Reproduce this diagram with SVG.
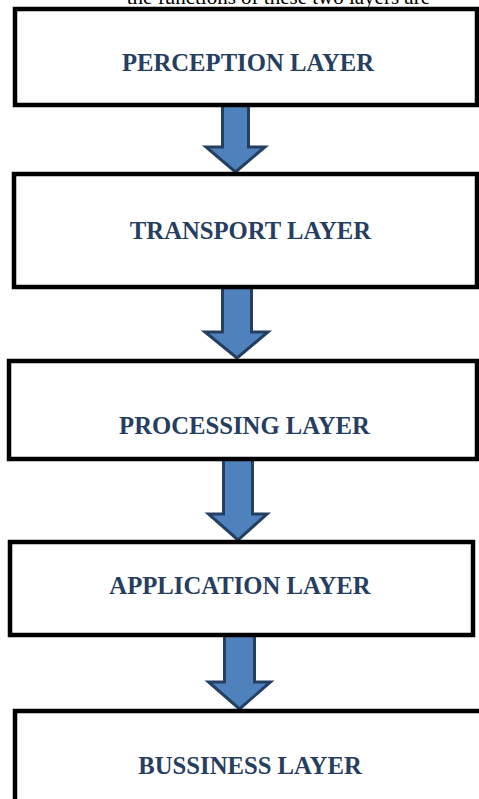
<svg xmlns="http://www.w3.org/2000/svg" width="479" height="799" viewBox="0 0 479 799">
<style>
.box{fill:#ffffff;stroke:#000000;stroke-width:4.5}
.lbl{font-family:"Liberation Serif","Times New Roman",serif;font-weight:bold;font-size:24.7px;fill:#263E60;text-anchor:middle}
.arr{fill:#4F81BD;stroke:#243F60;stroke-width:3;stroke-linejoin:miter}
.body{font-family:"Liberation Serif","Times New Roman",serif;font-size:21px;fill:#000000}
</style>
<rect width="479" height="799" fill="#ffffff"/>
<text class="body" x="430" y="4" text-anchor="end">the functions of these two layers are</text>
<g id="connectors">
<path class="arr" d="M222.5,104 L248.5,104 L248.5,147 L265,147 L235.5,172 L206,147 L222.5,147 Z"/>
<path class="arr" d="M222.5,287 L251.5,287 L251.5,332 L268,332 L237,358 L205,332 L222.5,332 Z"/>
<path class="arr" d="M223.5,459 L252.5,459 L252.5,514 L267,514 L238,540 L208.5,514 L223.5,514 Z"/>
<path class="arr" d="M224.5,635 L254.5,635 L254.5,682 L270.5,682 L239.5,709 L208.5,682 L224.5,682 Z"/>
</g>
<g id="perception">
<rect class="box" x="15" y="9" width="462" height="96"/>
<text class="lbl" x="248" y="71">PERCEPTION LAYER</text>
</g>
<g id="transport">
<rect class="box" x="14" y="174" width="463" height="113"/>
<text class="lbl" x="250.5" y="239">TRANSPORT LAYER</text>
</g>
<g id="processing">
<rect class="box" x="9" y="361" width="468" height="98"/>
<text class="lbl" x="244.5" y="434">PROCESSING LAYER</text>
</g>
<g id="application">
<rect class="box" x="10" y="542" width="463" height="93"/>
<text class="lbl" x="240" y="594">APPLICATION LAYER</text>
</g>
<g id="business">
<rect class="box" x="15" y="711" width="480" height="120"/>
<text class="lbl" x="250" y="774">BUSSINESS LAYER</text>
</g>
</svg>
